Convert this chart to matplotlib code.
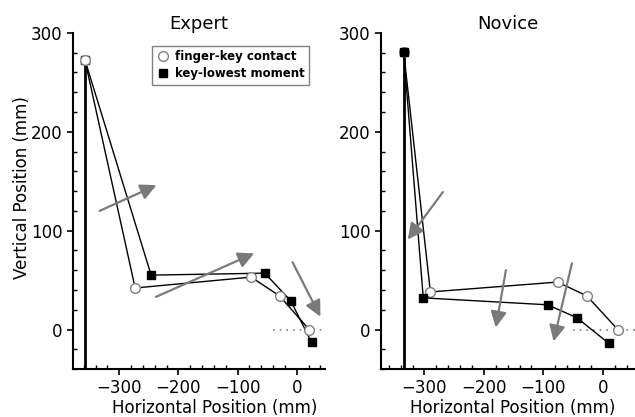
import matplotlib
matplotlib.use("Agg")
import matplotlib.pyplot as plt
from matplotlib.ticker import MultipleLocator

# Expert: trajectory points (mm)
exp_contact_x = [-358, -273, -77, -29, 21]
exp_contact_y = [273, 42, 53, 34, 0]
exp_lowest_x = [-358, -246, -54, -10, 25]
exp_lowest_y = [273, 55, 57, 29, -13]
exp_start_x = -358
exp_dot_from = -40
exp_arrows = [((-333, 120), (-237, 146)),
              ((-238, 33), (-72, 77)),
              ((-7, 68), (40, 13))]

# Novice
nov_contact_x = [-335, -290, -76, -27, 25]
nov_contact_y = [281, 38, 48, 34, 0]
nov_lowest_x = [-335, -302, -93, -44, 10]
nov_lowest_y = [281, 32, 25, 12, -14]
nov_start_x = -335
nov_dot_from = -50
nov_arrows = [((-269, 139), (-328, 91)),
              ((-163, 60), (-180, 2)),
              ((-52, 67), (-83, -12))]

plt.rcParams['font.family'] = ['DejaVu Sans']

fig = plt.figure(figsize=(6.35, 4.17), dpi=100)
ax1 = fig.add_axes([0.115, 0.115, 0.397, 0.806])
ax2 = fig.add_axes([0.600, 0.115, 0.400, 0.806])

panels = [
    (ax1, "Expert", exp_contact_x, exp_contact_y, exp_lowest_x, exp_lowest_y,
     exp_start_x, exp_dot_from, exp_arrows, (-378, 48), 5, 0.56),
    (ax2, "Novice", nov_contact_x, nov_contact_y, nov_lowest_x, nov_lowest_y,
     nov_start_x, nov_dot_from, nov_arrows, (-373, 54), 3, 0.52),
]

for ax, title, cx, cy, lx, ly, sx, dfrom, arrows, xl, cz, xlab in panels:
    ax.set_xlim(*xl)
    ax.set_ylim(-40, 300)
    ax.plot([sx, sx], [-40, cy[0]], color='black', lw=2, zorder=2)
    ax.plot([dfrom, xl[1]], [0, 0], color='gray', lw=1.2, ls=(0, (1, 3)), zorder=1)
    ax.plot(cx, cy, color='black', lw=1, marker='o', ms=7, mfc='white',
            mec='gray', mew=1, label='finger-key contact', zorder=cz)
    ax.plot(lx, ly, color='black', lw=1, marker='s', ms=6, mfc='black',
            mec='black', label='key-lowest moment', zorder=4)
    for (x0, y0), (x1, y1) in arrows:
        ax.annotate('', xy=(x1, y1), xytext=(x0, y0),
                    arrowprops=dict(arrowstyle='-|>', color='#7a7a7a', lw=1.6,
                                    mutation_scale=24, shrinkA=0, shrinkB=0),
                    zorder=6)
    ax.set_title(title, fontsize=13, pad=2)
    ax.set_xticks([-300, -200, -100, 0])
    ax.set_xticklabels(['\u2212300', '\u2212200', '\u2212100', '0'])
    ax.set_yticks([0, 100, 200, 300])
    ax.xaxis.set_minor_locator(MultipleLocator(20))
    ax.yaxis.set_minor_locator(MultipleLocator(20))
    ax.tick_params(which='major', direction='out', length=4, width=1.2, labelsize=12)
    ax.tick_params(which='minor', direction='in', length=3, width=1)
    for s in ['top', 'right']:
        ax.spines[s].set_visible(False)
    for s in ['left', 'bottom']:
        ax.spines[s].set_linewidth(1.5)
    ax.set_xlabel('Horizontal Position (mm)', fontsize=12)
    ax.xaxis.set_label_coords(xlab, -0.09)

ax1.set_ylabel('Vertical Position (mm)', fontsize=12)
ax1.yaxis.set_label_coords(-0.165, 0.54)
leg = ax1.legend(loc='upper right', bbox_to_anchor=(0.96, 0.98),
                 prop={'weight': 'bold', 'size': 8.5}, fancybox=False,
                 edgecolor='gray', handlelength=1.0, handletextpad=0.5,
                 borderpad=0.4, labelspacing=0.3, framealpha=1)
for h in leg.get_lines():
    h.set_linestyle('')

fig.savefig('out.png', dpi=100)
